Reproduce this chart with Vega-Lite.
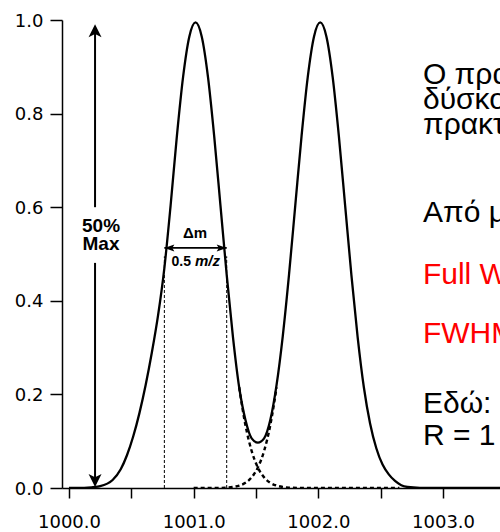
{
  "$schema": "https://vega.github.io/schema/vega-lite/v6.json",
  "width": 438,
  "height": 468,
  "autosize": {"type": "none"},
  "padding": {"left": 62, "top": 20, "right": 0, "bottom": 44},
  "background": "white",
  "config": {"view": {"stroke": null}, "font": "Liberation Sans"},
  "datasets": {
    "profile": [
      {"mz": 1000.0, "i": 0}, {"mz": 1000.15, "i": 0.001}, {"mz": 1000.25, "i": 0.004},
      {"mz": 1000.35, "i": 0.017}, {"mz": 1000.415, "i": 0.04}, {"mz": 1000.465, "i": 0.07},
      {"mz": 1000.515, "i": 0.11}, {"mz": 1000.565, "i": 0.16}, {"mz": 1000.615, "i": 0.22},
      {"mz": 1000.665, "i": 0.29}, {"mz": 1000.715, "i": 0.37}, {"mz": 1000.765, "i": 0.47},
      {"mz": 1000.815, "i": 0.6035}, {"mz": 1000.865, "i": 0.751}, {"mz": 1000.915, "i": 0.8781},
      {"mz": 1000.965, "i": 0.9644}, {"mz": 1001.015, "i": 0.995}, {"mz": 1001.065, "i": 0.9644},
      {"mz": 1001.115, "i": 0.8781}, {"mz": 1001.165, "i": 0.751}, {"mz": 1001.215, "i": 0.6035},
      {"mz": 1001.265, "i": 0.4555}, {"mz": 1001.315, "i": 0.3231}, {"mz": 1001.365, "i": 0.2152},
      {"mz": 1001.415, "i": 0.1457}, {"mz": 1001.465, "i": 0.106}, {"mz": 1001.515, "i": 0.097},
      {"mz": 1001.565, "i": 0.106}, {"mz": 1001.615, "i": 0.1457}, {"mz": 1001.665, "i": 0.2203},
      {"mz": 1001.715, "i": 0.3253}, {"mz": 1001.765, "i": 0.4564}, {"mz": 1001.815, "i": 0.6038},
      {"mz": 1001.865, "i": 0.751}, {"mz": 1001.915, "i": 0.8781}, {"mz": 1001.965, "i": 0.9644},
      {"mz": 1002.015, "i": 0.995}, {"mz": 1002.065, "i": 0.9644}, {"mz": 1002.115, "i": 0.8781},
      {"mz": 1002.165, "i": 0.751}, {"mz": 1002.215, "i": 0.6035}, {"mz": 1002.265, "i": 0.4555},
      {"mz": 1002.315, "i": 0.3231}, {"mz": 1002.365, "i": 0.2152}, {"mz": 1002.415, "i": 0.138},
      {"mz": 1002.465, "i": 0.085}, {"mz": 1002.515, "i": 0.05}, {"mz": 1002.565, "i": 0.029},
      {"mz": 1002.615, "i": 0.015}, {"mz": 1002.665, "i": 0.006}, {"mz": 1002.715, "i": 0.0022},
      {"mz": 1002.815, "i": 0.0003}, {"mz": 1003.015, "i": 0}, {"mz": 1003.5, "i": 0}
    ],
    "components": [
      {"peak": "1001", "mz": 1001.365, "i": 0.2152}, {"peak": "1001", "mz": 1001.415, "i": 0.1347},
      {"peak": "1001", "mz": 1001.465, "i": 0.0792}, {"peak": "1001", "mz": 1001.515, "i": 0.0437},
      {"peak": "1001", "mz": 1001.565, "i": 0.0227}, {"peak": "1001", "mz": 1001.615, "i": 0.011},
      {"peak": "1001", "mz": 1001.665, "i": 0.0051}, {"peak": "1001", "mz": 1001.715, "i": 0.0022},
      {"peak": "1001", "mz": 1001.765, "i": 0.0009}, {"peak": "1001", "mz": 1001.865, "i": 0.0001},
      {"peak": "1001", "mz": 1001.965, "i": 0}, {"peak": "1001", "mz": 1002.65, "i": 0},
      {"peak": "1002", "mz": 1001.0, "i": 0}, {"peak": "1002", "mz": 1001.215, "i": 0.0003},
      {"peak": "1002", "mz": 1001.315, "i": 0.0022}, {"peak": "1002", "mz": 1001.365, "i": 0.0051},
      {"peak": "1002", "mz": 1001.415, "i": 0.011}, {"peak": "1002", "mz": 1001.465, "i": 0.0227},
      {"peak": "1002", "mz": 1001.515, "i": 0.0437}, {"peak": "1002", "mz": 1001.565, "i": 0.0792},
      {"peak": "1002", "mz": 1001.615, "i": 0.1347}, {"peak": "1002", "mz": 1001.665, "i": 0.2152}
    ],
    "fwhm": [{"mz": 1000.765}, {"mz": 1001.265}],
    "notes": [
      {"text": "Ο πραγματικός διαχωρισμός", "kind": "body", "mz": 1002.839, "i": 0.863},
      {"text": "δύσκολα επιτυγχάνεται", "kind": "body", "mz": 1002.839, "i": 0.81},
      {"text": "πρακτικά", "kind": "body", "mz": 1002.839, "i": 0.756},
      {"text": "Από μία κορυφή:", "kind": "body", "mz": 1002.839, "i": 0.568},
      {"text": "Full Width at Half Maximum", "kind": "term", "mz": 1002.839, "i": 0.436},
      {"text": "FWHM = Δm", "kind": "term", "mz": 1002.839, "i": 0.31},
      {"text": "Εδώ:", "kind": "body", "mz": 1002.839, "i": 0.16},
      {"text": "R = 1 000 / 0.5 = 2 000", "kind": "body", "mz": 1002.839, "i": 0.092}
    ]
  },
  "layer": [
    {
      "data": {"name": "profile"},
      "mark": {"type": "line", "color": "black", "strokeWidth": 2.3, "interpolate": "monotone", "clip": true},
      "encoding": {
        "x": {
          "field": "mz", "type": "quantitative",
          "scale": {"domain": [999.944, 1003.457], "nice": false, "zero": false},
          "axis": {
            "title": null, "grid": false,
            "values": [1000, 1000.5, 1001, 1001.5, 1002, 1002.5, 1003],
            "labelExpr": "datum.value % 1 == 0 ? format(datum.value, '.1f') : ''",
            "labelFont": "DejaVu Sans", "labelFontSize": 18, "labelColor": "black",
            "labelPadding": 15, "labelFlush": false, "labelOverlap": false,
            "tickSize": 10, "tickWidth": 1.5, "tickColor": "black",
            "domainColor": "black", "domainWidth": 1.5
          }
        },
        "y": {
          "field": "i", "type": "quantitative",
          "scale": {"domain": [0, 1], "nice": false, "zero": false},
          "axis": {
            "title": null, "grid": false,
            "values": [0, 0.2, 0.4, 0.6, 0.8, 1.0], "format": ".1f",
            "labelFont": "DejaVu Sans", "labelFontSize": 18, "labelColor": "black",
            "labelPadding": 7, "labelOffset": 1,
            "tickSize": 12, "tickWidth": 1.5, "tickColor": "black",
            "domainColor": "black", "domainWidth": 1.5
          }
        }
      }
    },
    {
      "data": {"name": "components"},
      "mark": {"type": "line", "color": "black", "strokeWidth": 2.4, "strokeDash": [4, 3], "interpolate": "monotone", "clip": true},
      "encoding": {
        "x": {"field": "mz", "type": "quantitative"},
        "y": {"field": "i", "type": "quantitative"},
        "detail": {"field": "peak"}
      }
    },
    {
      "data": {"name": "fwhm"},
      "mark": {"type": "rule", "color": "black", "strokeWidth": 1, "strokeDash": [3, 2]},
      "encoding": {
        "x": {"field": "mz", "type": "quantitative"},
        "y": {"datum": 0, "type": "quantitative"},
        "y2": {"datum": 0.495}
      }
    },
    {
      "data": {"values": [{}]},
      "mark": {"type": "rule", "color": "black", "strokeWidth": 1.6},
      "encoding": {
        "x": {"datum": 1000.765, "type": "quantitative"},
        "x2": {"datum": 1001.265},
        "y": {"datum": 0.513, "type": "quantitative"}
      }
    },
    {
      "data": {"values": [{}]},
      "mark": {"type": "rule", "color": "black", "strokeWidth": 2},
      "encoding": {
        "x": {"datum": 1000.209, "type": "quantitative"},
        "y": {"datum": 0.6, "type": "quantitative"},
        "y2": {"datum": 0.985}
      }
    },
    {
      "data": {"values": [{}]},
      "mark": {"type": "rule", "color": "black", "strokeWidth": 2},
      "encoding": {
        "x": {"datum": 1000.209, "type": "quantitative"},
        "y": {"datum": 0.008, "type": "quantitative"},
        "y2": {"datum": 0.481}
      }
    },
    {
      "data": {"values": [{}]},
      "mark": {"type": "point", "shape": "M0,0L-0.5,1L0,0.75L0.5,1Z", "size": 676, "filled": true, "color": "black", "opacity": 1, "strokeWidth": 0},
      "encoding": {
        "x": {"datum": 1000.209, "type": "quantitative"},
        "y": {"datum": 0.991, "type": "quantitative"}
      }
    },
    {
      "data": {"values": [{}]},
      "mark": {"type": "point", "shape": "M0,0L-0.5,-1L0,-0.75L0.5,-1Z", "size": 676, "filled": true, "color": "black", "opacity": 1, "strokeWidth": 0},
      "encoding": {
        "x": {"datum": 1000.209, "type": "quantitative"},
        "y": {"datum": 0.002, "type": "quantitative"}
      }
    },
    {
      "data": {"values": [{}]},
      "mark": {"type": "point", "shape": "M0,0L1,-0.35L0.8,0L1,0.35Z", "size": 400, "filled": true, "color": "black", "opacity": 1, "strokeWidth": 0},
      "encoding": {
        "x": {"datum": 1000.765, "type": "quantitative"},
        "y": {"datum": 0.513, "type": "quantitative"}
      }
    },
    {
      "data": {"values": [{}]},
      "mark": {"type": "point", "shape": "M0,0L-1,-0.35L-0.8,0L-1,0.35Z", "size": 400, "filled": true, "color": "black", "opacity": 1, "strokeWidth": 0},
      "encoding": {
        "x": {"datum": 1001.265, "type": "quantitative"},
        "y": {"datum": 0.513, "type": "quantitative"}
      }
    },
    {
      "data": {"values": [{}]},
      "mark": {"type": "text", "text": "50%", "font": "Liberation Sans", "fontWeight": "bold", "fontSize": 19, "align": "center", "baseline": "alphabetic", "color": "black"},
      "encoding": {
        "x": {"datum": 1000.257, "type": "quantitative"},
        "y": {"datum": 0.547, "type": "quantitative"}
      }
    },
    {
      "data": {"values": [{}]},
      "mark": {"type": "text", "text": "Max", "font": "Liberation Sans", "fontWeight": "bold", "fontSize": 19, "align": "center", "baseline": "alphabetic", "color": "black"},
      "encoding": {
        "x": {"datum": 1000.257, "type": "quantitative"},
        "y": {"datum": 0.5085, "type": "quantitative"}
      }
    },
    {
      "data": {"values": [{}]},
      "mark": {"type": "text", "text": "Δm", "font": "Liberation Sans", "fontWeight": "bold", "fontSize": 15, "align": "center", "baseline": "alphabetic", "color": "black"},
      "encoding": {
        "x": {"datum": 1001.011, "type": "quantitative"},
        "y": {"datum": 0.534, "type": "quantitative"}
      }
    },
    {
      "data": {"values": [{}]},
      "mark": {"type": "text", "text": "0.5", "font": "Liberation Sans", "fontWeight": "bold", "fontSize": 14, "align": "right", "baseline": "alphabetic", "color": "black"},
      "encoding": {
        "x": {"datum": 1000.979, "type": "quantitative"},
        "y": {"datum": 0.474, "type": "quantitative"}
      }
    },
    {
      "data": {"values": [{}]},
      "mark": {"type": "text", "text": "m/z", "font": "Liberation Sans", "fontWeight": "bold", "fontStyle": "italic", "fontSize": 15, "align": "left", "baseline": "alphabetic", "color": "black"},
      "encoding": {
        "x": {"datum": 1001.011, "type": "quantitative"},
        "y": {"datum": 0.474, "type": "quantitative"}
      }
    },
    {
      "data": {"name": "notes"},
      "mark": {"type": "text", "font": "Liberation Sans", "fontSize": 30, "align": "left", "baseline": "alphabetic", "clip": true},
      "encoding": {
        "x": {"field": "mz", "type": "quantitative"},
        "y": {"field": "i", "type": "quantitative"},
        "text": {"field": "text"},
        "color": {"field": "kind", "type": "nominal", "scale": {"domain": ["body", "term"], "range": ["black", "#ff0000"]}, "legend": null}
      }
    }
  ]
}
